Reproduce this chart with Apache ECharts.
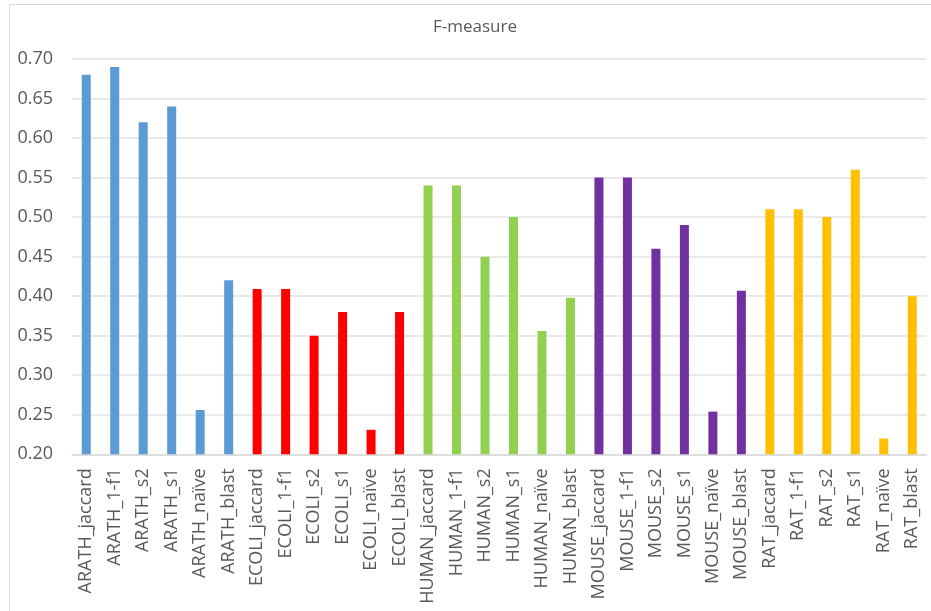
<!DOCTYPE html>
<html>
<head>
<meta charset="utf-8">
<script src="https://cdn.jsdelivr.net/npm/echarts@6/dist/echarts.min.js"></script>
<style>
html,body{margin:0;padding:0;background:#fff;}
#chart{width:931px;height:611px;}
</style>
</head>
<body>
<div id="chart"></div>
<script>
var groups = ['ARATH', 'ECOLI', 'HUMAN', 'MOUSE', 'RAT'];
var methods = ['jaccard', '1-f1', 's2', 's1', 'naïve', 'blast'];
var arath = [0.68, 0.69, 0.62, 0.64, 0.256, 0.42];
var ecoli = [0.409, 0.409, 0.35, 0.38, 0.231, 0.38];
var human = [0.54, 0.54, 0.45, 0.50, 0.356, 0.398];
var mouse = [0.55, 0.55, 0.46, 0.49, 0.254, 0.407];
var rat = [0.51, 0.51, 0.50, 0.56, 0.22, 0.40];
var groupColors = ['#5b9bd5', '#ff0000', '#92d050', '#7030a0', '#ffc000'];
var yTicks = [0.20, 0.70, 0.05];

var groupValues = [arath, ecoli, human, mouse, rat];
var categories = [];
var values = [];
groups.forEach(function (g, gi) {
  methods.forEach(function (m, mi) {
    categories.push(g + '_' + m);
    values.push({ value: groupValues[gi][mi], itemStyle: { color: groupColors[gi] } });
  });
});

var chart = echarts.init(document.getElementById('chart'), null, { renderer: 'canvas' });
var font = '"Open Sans", "Noto Sans", sans-serif';
chart.setOption({
  animation: false,
  backgroundColor: '#ffffff',
  title: {
    text: 'F-measure',
    left: 428,
    top: 14,
    textStyle: { fontFamily: font, fontSize: 17, fontWeight: 'normal', color: '#595959' }
  },
  graphic: [{
    type: 'rect',
    shape: { x: 9.5, y: 4.5, width: 940, height: 640 },
    style: { fill: 'none', stroke: '#d9d9d9', lineWidth: 1 },
    silent: true
  }],
  grid: { left: 72, right: 4.5, top: 59, bottom: 156.7, containLabel: false },
  xAxis: {
    type: 'category',
    data: categories,
    axisTick: { show: false },
    axisLine: { lineStyle: { color: '#d9d9d9', width: 1.5 } },
    axisLabel: {
      interval: 0, rotate: 90, margin: 14,
      fontFamily: font, fontSize: 18, color: '#595959'
    }
  },
  yAxis: {
    type: 'value',
    min: yTicks[0], max: yTicks[1], interval: yTicks[2],
    axisLine: { show: false },
    axisTick: { show: false },
    splitLine: { lineStyle: { color: '#e3e3e3', width: 1.5 } },
    axisLabel: {
      margin: 19, fontFamily: font, fontSize: 18, color: '#595959',
      formatter: function (v) { return v.toFixed(2); }
    }
  },
  series: [{
    type: 'bar',
    data: values,
    barWidth: 9
  }]
});
</script>
</body>
</html>
